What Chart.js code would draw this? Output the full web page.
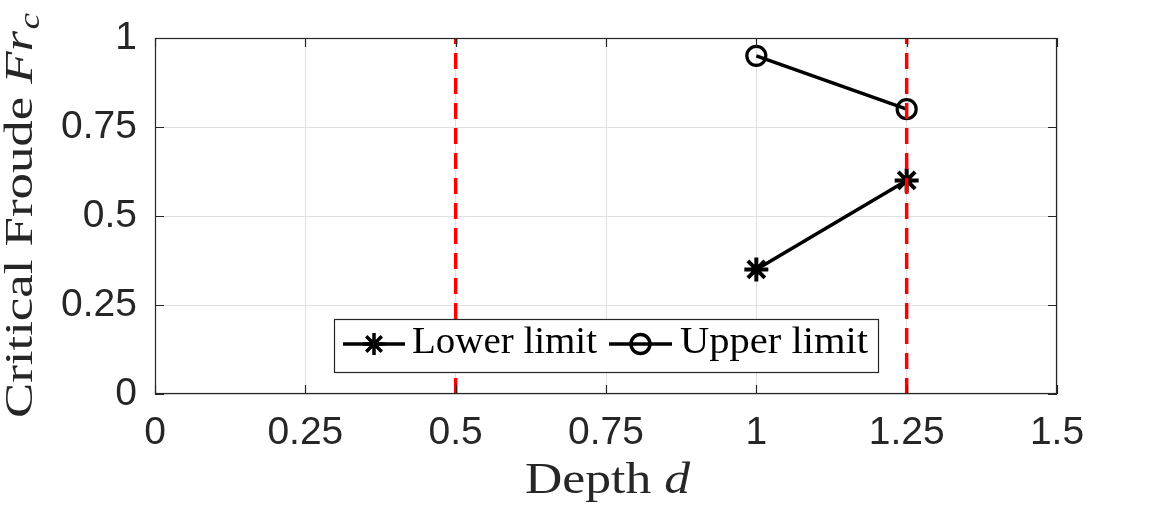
<!DOCTYPE html>
<html><head><meta charset="utf-8">
<script src="https://cdn.jsdelivr.net/npm/chart.js@4"></script>
<style>html,body{margin:0;padding:0;background:#fff}#wrap{width:1167px;height:513px;position:relative}</style>
</head><body><div id="wrap"><canvas id="c" width="1167" height="513"></canvas></div>
<script>
const xTicks=[0,0.25,0.5,0.75,1,1.25,1.5];
const xTickLabels=["0","0.25","0.5","0.75","1","1.25","1.5"];
const yTicks=[0,0.25,0.5,0.75,1];
const yTickLabels=["0","0.25","0.5","0.75","1"];
const depth=[1,1.25];
const lowerLimit=[0.35,0.6];
const upperLimit=[0.95,0.8];
const dashedDepths=[0.5,1.25];
const seriesNames=["Lower limit","Upper limit"];

const AX='#262626';
const SERIF='"Liberation Serif","DejaVu Serif",serif';
const SANS='"Liberation Sans",Arial,sans-serif';

// draws segments starting at x (left) on baseline y, horizontally stretched to targetW
function drawRich(ctx,segs,x,y,targetW,center){
  let w=0;
  segs.forEach(s=>{ctx.font=s.font;s.w=ctx.measureText(s.text).width;w+=s.w+(s.gap||0);});
  const k=targetW?targetW/w:1;
  ctx.save();
  ctx.translate(center?x-w*k/2:x,y);
  ctx.scale(k,1);
  let cx=0;
  segs.forEach(s=>{ctx.font=s.font;ctx.fillText(s.text,cx,(s.dy||0));cx+=s.w+(s.gap||0);});
  ctx.restore();
}

const decor={
  id:'decor',
  afterDraw(chart){
    const ctx=chart.ctx, a=chart.chartArea, xs=chart.scales.x, ys=chart.scales.y;
    ctx.save();
    // frame
    ctx.strokeStyle=AX;ctx.lineWidth=1.2;
    ctx.strokeRect(a.left+0.5,a.top+0.5,a.right-a.left-1,a.bottom-a.top-1);
    // inward ticks
    const TL=9;
    ctx.beginPath();
    xTicks.forEach(v=>{const px=Math.round(xs.getPixelForValue(v))+0.5;
      ctx.moveTo(px,a.bottom);ctx.lineTo(px,a.bottom-TL);
      ctx.moveTo(px,a.top);ctx.lineTo(px,a.top+TL);});
    yTicks.forEach(v=>{const py=Math.round(ys.getPixelForValue(v))+0.5;
      ctx.moveTo(a.left,py);ctx.lineTo(a.left+TL,py);
      ctx.moveTo(a.right,py);ctx.lineTo(a.right-TL,py);});
    ctx.stroke();
    // x title
    ctx.fillStyle=AX;ctx.textBaseline='alphabetic';
    drawRich(ctx,[{text:'Depth ',font:'44px '+SERIF},{text:'d',font:'italic 44px '+SERIF}],525,493,165,false);
    // y title
    ctx.save();
    ctx.translate(32,418);ctx.rotate(-Math.PI/2);
    drawRich(ctx,[{text:'Critical Froude ',font:'41px '+SERIF},{text:'Fr',font:'italic 41px '+SERIF,gap:1},{text:'c',font:'italic 29px '+SERIF,dy:7}],0,0,405,false);
    ctx.restore();
    // legend
    const bx=334,by=319,bw=544,bh=53;
    ctx.fillStyle='#fff';ctx.fillRect(bx,by,bw,bh);
    ctx.strokeStyle=AX;ctx.lineWidth=1.2;ctx.strokeRect(bx+0.5,by+0.5,bw,bh);
    const ly=344;
    const items=[{x0:343,x1:405,style:'star',tx:412,tw:185},{x0:609,x1:672,style:'circle',tx:680,tw:188}];
    items.forEach((it,i)=>{
      ctx.strokeStyle='#000';ctx.lineWidth=3.5;
      ctx.beginPath();ctx.moveTo(it.x0,ly);ctx.lineTo(it.x1,ly);ctx.stroke();
      const mx=(it.x0+it.x1)/2;
      if(it.style==='star'){
        ctx.fillStyle='#000';
        Chart.helpers.drawPoint(ctx,{pointStyle:'star',radius:11,rotation:0,borderWidth:3.5},mx,ly);
      }else{
        ctx.beginPath();ctx.arc(mx,ly,9.5,0,Math.PI*2);ctx.stroke();
      }
      ctx.fillStyle='#000';ctx.textBaseline='alphabetic';
      drawRich(ctx,[{text:seriesNames[i],font:'38px '+SERIF}],it.tx,353,it.tw,false);
    });
    ctx.restore();
  }
};

const dashedSets=dashedDepths.map(d=>({
  data:[{x:d,y:0},{x:d,y:1}],borderColor:'#ff0000',borderWidth:3.5,borderDash:[16,9],
  pointRadius:0,fill:false,showLine:true
}));

new Chart(document.getElementById('c'),{
  type:'scatter',
  data:{datasets:[...dashedSets,
    {label:seriesNames[0],data:depth.map((d,i)=>({x:d,y:lowerLimit[i]})),showLine:true,borderColor:'#000',borderWidth:3.5,
      pointStyle:'star',pointRadius:12,pointBorderWidth:4,pointBorderColor:'#000',pointBackgroundColor:'#000'},
    {label:seriesNames[1],data:depth.map((d,i)=>({x:d,y:upperLimit[i]})),showLine:true,borderColor:'#000',borderWidth:3.5,
      pointStyle:'circle',pointRadius:9.5,pointBorderWidth:3.2,pointBorderColor:'#000',pointBackgroundColor:'rgba(0,0,0,0)'}
  ]},
  options:{
    responsive:false,animation:false,devicePixelRatio:1,
    layout:{padding:{left:0,top:38,right:110,bottom:0}},
    plugins:{legend:{display:false},tooltip:{enabled:false}},
    scales:{
      x:{type:'linear',min:0,max:1.5,
        afterBuildTicks:s=>{s.ticks=xTicks.map(v=>({value:v}));},
        afterFit:s=>{s.height=119;s.paddingLeft=0;s.paddingRight=0;},
        ticks:{callback:(v)=>xTickLabels[xTicks.indexOf(v)],font:{family:SANS,size:39},color:AX,padding:16,maxRotation:0,autoSkip:false},
        grid:{color:'#e0e0e0',lineWidth:1,drawTicks:false},border:{display:false}},
      y:{type:'linear',min:0,max:1,
        afterBuildTicks:s=>{s.ticks=yTicks.map(v=>({value:v}));},
        afterFit:s=>{s.width=155;s.paddingTop=0;s.paddingBottom=0;},
        ticks:{callback:(v)=>yTickLabels[yTicks.indexOf(v)],font:{family:SANS,size:39},color:AX,padding:18,autoSkip:false},
        grid:{color:'#e0e0e0',lineWidth:1,drawTicks:false},border:{display:false}}
    }
  },
  plugins:[decor]
});
</script></body></html>
